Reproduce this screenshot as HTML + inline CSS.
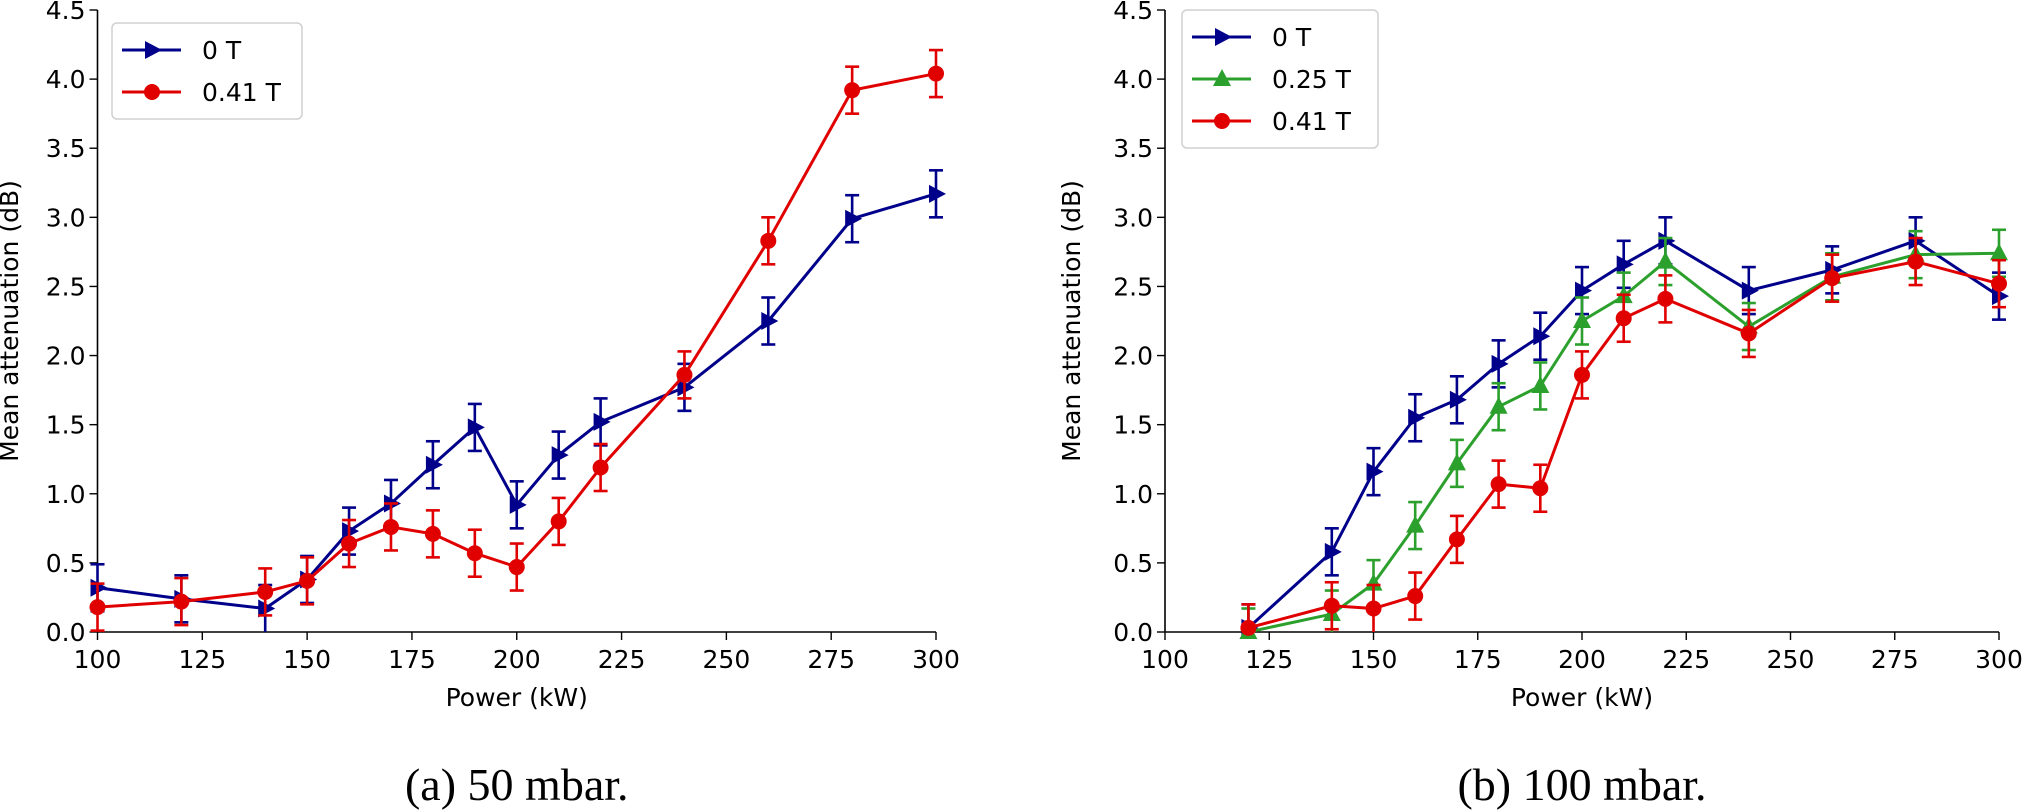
<!DOCTYPE html>
<html><head><meta charset="utf-8"><style>
html,body{margin:0;padding:0;background:#fff;width:2024px;height:810px;overflow:hidden}
svg{display:block}
text{font-family:"DejaVu Sans","Liberation Sans",sans-serif;fill:#000}
.cap{font-family:"Liberation Serif","DejaVu Serif",serif;font-size:46px}
</style></head><body>
<svg id="fig" width="2024" height="810" viewBox="0 0 2024 810" xmlns="http://www.w3.org/2000/svg"></svg>
<script>
const powerA=[100,120,140,150,160,170,180,190,200,210,220,240,260,280,300];
const a0T=[0.32,0.24,0.17,0.38,0.73,0.93,1.21,1.48,0.92,1.28,1.52,1.77,2.25,2.99,3.17];
const a041T=[0.18,0.22,0.29,0.37,0.64,0.76,0.71,0.57,0.47,0.80,1.19,1.86,2.83,3.92,4.04];
const errA0=[0.17,0.17,0.17,0.17,0.17,0.17,0.17,0.17,0.17,0.17,0.17,0.17,0.17,0.17,0.17];
const errA041=[0.17,0.17,0.17,0.17,0.17,0.17,0.17,0.17,0.17,0.17,0.17,0.17,0.17,0.17,0.17];
const powerB=[120,140,150,160,170,180,190,200,210,220,240,260,280,300];
const b0T=[0.03,0.58,1.16,1.55,1.68,1.94,2.14,2.47,2.66,2.83,2.47,2.62,2.83,2.43];
const b025T=[0.0,0.13,0.35,0.77,1.22,1.63,1.78,2.25,2.43,2.68,2.21,2.57,2.73,2.74];
const b041T=[0.03,0.19,0.17,0.26,0.67,1.07,1.04,1.86,2.27,2.41,2.16,2.56,2.68,2.52];
const errB=[0.17,0.17,0.17,0.17,0.17,0.17,0.17,0.17,0.17,0.17,0.17,0.17,0.17,0.17];
const xTicks=[100,125,150,175,200,225,250,275,300];
const yTicks=[0,0.5,1,1.5,2,2.5,3,3.5,4,4.5];
const yTickLabels=["0.0","0.5","1.0","1.5","2.0","2.5","3.0","3.5","4.0","4.5"];

const NS="http://www.w3.org/2000/svg";
const svg=document.getElementById('fig');
function mk(tag,attrs,parent){const e=document.createElementNS(NS,tag);for(const k in attrs)e.setAttribute(k,attrs[k]);(parent||svg).appendChild(e);return e;}
const Y0=632,Y1=10;
function yS(v){return Y0+(Y1-Y0)*v/4.5;}

function marker(g,type,x,y,col,s){
  let m;
  if(type==='tri-right'){m=mk('path',{d:`M${x-7*s},${y-9*s}L${x+10*s},${y}L${x-7*s},${y+9*s}Z`,fill:col},g);}
  else if(type==='tri-up'){m=mk('path',{d:`M${x},${y-10*s}L${x+9*s},${y+7*s}L${x-9*s},${y+7*s}Z`,fill:col},g);}
  else {m=mk('circle',{cx:x,cy:y,r:8*s,fill:col},g);}
  return m;
}

function panel(id,xl,xr,series,legendBox,labelX,caption){
  const xS=v=>xl+(xr-xl)*(v-100)/200;
  const g=mk('g',{});
  
  
  const ax=mk('g',{},g);
  
  
  mk('line',{x1:xl,y1:Y0,x2:xl,y2:Y1,stroke:'#000','stroke-width':1.6},ax);
  mk('line',{x1:xl,y1:Y0,x2:xr,y2:Y0,stroke:'#000','stroke-width':1.6},ax);
  yTicks.forEach((t,i)=>{
    const y=yS(t);
    mk('line',{x1:xl-8,y1:y,x2:xl,y2:y,stroke:'#000','stroke-width':1.4},ax);
    const tx=mk('text',{x:xl-12,y:y+9,'font-size':25,'text-anchor':'end'},ax);
    tx.textContent=yTickLabels[i];
    
    
  });
  xTicks.forEach(t=>{
    const x=xS(t);
    mk('line',{x1:x,y1:Y0,x2:x,y2:Y0+8,stroke:'#000','stroke-width':1.4},ax);
    const tx=mk('text',{x:x,y:Y0+36,'font-size':25,'text-anchor':'middle'},ax);
    tx.textContent=String(t);
    
    
  });
  const xt=mk('text',{x:(xl+xr)/2,y:706,'font-size':25,'text-anchor':'middle'},g);
  xt.textContent='Power (kW)';
  
  
  const yt=mk('text',{x:labelX,y:(Y0+Y1)/2,'font-size':25,'text-anchor':'middle',transform:`rotate(-90 ${labelX} ${(Y0+Y1)/2})`},g);
  yt.textContent='Mean attenuation (dB)';
  
  
  const cp=mk('text',{x:(xl+xr)/2,y:800,'text-anchor':'middle',class:'cap'},g);
  cp.textContent=caption;
  
  

  series.forEach(s=>{
    const sg=mk('g',{},g);
    
    
    const pts=s.xs.map((v,i)=>[xS(v),yS(s.ys[i])]);
    mk('polyline',{points:pts.map(p=>p.join(',')).join(' '),fill:'none',stroke:s.col,'stroke-width':3,'stroke-linejoin':'round'},sg);
    pts.forEach((p,i)=>{
      const e=s.err[i];
      const ya=yS(s.ys[i]+e), yb=yS(Math.max(0,s.ys[i]-e));
      mk('line',{x1:p[0],y1:ya,x2:p[0],y2:Math.min(Y0,yb),stroke:s.col,'stroke-width':2.6},sg);
      mk('line',{x1:p[0]-7,y1:ya,x2:p[0]+7,y2:ya,stroke:s.col,'stroke-width':2.6},sg);
      if(s.ys[i]-e>0)mk('line',{x1:p[0]-7,y1:yb,x2:p[0]+7,y2:yb,stroke:s.col,'stroke-width':2.6},sg);
      const m=marker(sg,s.m,p[0],p[1],s.col,1);
      
      
    });
  });

  const lg=mk('g',{},g);
  
  
  mk('rect',{x:legendBox.x,y:legendBox.y,width:legendBox.w,height:series.length*42+12,rx:5,fill:'#fff',stroke:'#d0d0d0','stroke-width':1.5},lg);
  series.forEach((s,i)=>{
    const cy=legendBox.y+27+i*42;
    const eg=mk('g',{},lg);
    
    
    mk('line',{x1:legendBox.x+10,y1:cy,x2:legendBox.x+69,y2:cy,stroke:s.col,'stroke-width':3},eg);
    marker(eg,s.m,legendBox.x+40,cy,s.col,1);
    const t=mk('text',{x:legendBox.x+90,y:cy+9,'font-size':25},eg);
    t.textContent=s.label;
  });
}

const NAVY='#00008b',RED='#e00000',GREEN='#2ca02c';
panel('panel-a',97.5,936,[
  {key:'0T',label:'0 T',xs:powerA,ys:a0T,err:errA0,col:NAVY,m:'tri-right'},
  {key:'041T',label:'0.41 T',xs:powerA,ys:a041T,err:errA041,col:RED,m:'circle'}
],{x:112,y:23,w:190},18,'(a) 50 mbar.');
panel('panel-b',1165,1999,[
  {key:'0T',label:'0 T',xs:powerB,ys:b0T,err:errB,col:NAVY,m:'tri-right'},
  {key:'025T',label:'0.25 T',xs:powerB,ys:b025T,err:errB,col:GREEN,m:'tri-up'},
  {key:'041T',label:'0.41 T',xs:powerB,ys:b041T,err:errB,col:RED,m:'circle'}
],{x:1182,y:10,w:196},1080,'(b) 100 mbar.');
</script>
</body></html>
